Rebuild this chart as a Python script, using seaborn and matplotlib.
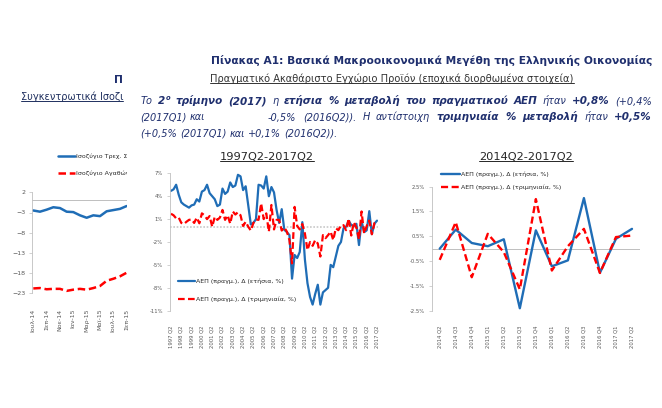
import seaborn as sns
import matplotlib.pyplot as plt
from matplotlib.lines import Line2D
from matplotlib.transforms import Bbox, TransformedBbox

# ============================================ [ data ] ============================================
months = ["Ιουλ-14", "Αυγ-14", "Σεπ-14", "Οκτ-14", "Νοε-14", "Δεκ-14", "Ιαν-15", "Φεβ-15",
          "Μαρ-15", "Απρ-15", "Μαϊ-15", "Ιουν-15", "Ιουλ-15", "Αυγ-15", "Σεπ-15"]
current_account = [-2.5, -2.8, -2.3, -1.7, -1.9, -2.8, -2.9, -3.7, -4.3, -3.7, -3.9, -2.7, -2.4, -2.1, -1.4]
goods_balance = [-21.8, -21.7, -22.0, -21.9, -21.9, -22.4, -22.1, -21.9, -22.1, -21.7, -21.2, -19.9, -19.4, -18.8, -17.9]

quarters = [f"{y} Q{q}" for y in range(1997, 2018) for q in range(1, 5)][1:-2]   # 1997 Q2 .. 2017 Q2
gdp_annual = [4.7, 4.9, 5.5, 4.2, 3.2, 2.9, 2.7, 2.5, 2.8, 2.9, 3.6, 3.3, 4.6, 4.8, 5.5, 4.4,
              4.0, 3.6, 2.7, 2.9, 5.0, 4.3, 4.6, 5.8, 5.2, 5.4, 6.8, 6.6, 4.8, 5.3, 2.8, 0.3,
              0.5, 1.0, 5.5, 5.4, 5.0, 6.6, 4.0, 5.2, 4.5, 2.2, 0.5, 2.3, -0.4, -0.7, -1.1, -6.8,
              -3.7, -4.1, -3.3, 0.6, -4.3, -7.4, -9.2, -10.2, -8.8, -7.6, -10.2, -8.6, -8.3, -8.0,
              -5.0, -5.3, -3.9, -2.5, -2.0, -0.2,
              0.0, 0.77, 0.23, 0.1, 0.38, -2.4, 0.74, -0.71, -0.47, 2.04, -0.97, 0.4, 0.8]
gdp_quarterly = [1.7, 1.5, 1.1, 1.2, 0.5, 0.35, 0.65, 0.9, 0.95, 0.5, 1.2, 0.45, 1.75, 1.5, 1.0, 1.4,
                 0.0, 1.3, 0.9, 1.2, 2.2, 0.9, 1.5, 0.4, 2.0, 1.6, 1.9, 1.5, 0.1, 0.65, 0.0, -0.5,
                 0.5, 0.95, 0.9, 3.05, 1.0, 1.75, -0.65, 2.85, -0.35, 0.9, 0.9, -0.5, -0.1, -0.65, -1.75, -4.8,
                 2.6, 0.1, -0.35, 0.35, -0.9, -3.05, -2.0, -2.5, -1.75, -2.2, -3.9, -1.1, -1.5, -1.1,
                 -0.65, -1.75, -0.2, -0.45, 0.2, 0.2,
                 -0.45, 1.07, -1.15, 0.6, -0.14, -1.64, 2.0, -0.88, 0.1, 0.8, -0.98, 0.47, 0.53]

recent_quarters = quarters[-13:]
recent_annual = gdp_annual[-13:]
recent_quarterly = gdp_quarterly[-13:]

# ============================================ [ style ] ============================================
sns.set_theme(style="white")
plt.rcParams["font.family"] = ["DejaVu Sans"]

BLUE = "#1f6db6"
RED = "#ff0000"
GREY = "#595959"
NAVY = "#1f2f6e"
W, H = 662, 408

fig = plt.figure(figsize=(6.62, 4.08), dpi=100)
fig.patch.set_facecolor("white")


def box(x0, y0, x1, y1):
    return [x0 / W, 1 - y1 / H, (x1 - x0) / W, (y1 - y0) / H]


def style_axes(ax, tick_size, xpad, ypad):
    for s in ["top", "right", "bottom"]:
        ax.spines[s].set_visible(False)
    ax.spines["left"].set_color("#bfbfbf")
    ax.spines["left"].set_linewidth(0.6)
    ax.tick_params(axis="y", left=True, length=2, width=0.5, color="#bfbfbf",
                   labelsize=tick_size, labelcolor=GREY, pad=ypad)
    ax.tick_params(axis="x", bottom=False, labelsize=tick_size, labelcolor=GREY,
                   pad=xpad, labelrotation=90)
    ax.set_xlabel("")
    ax.set_ylabel("")


# ---------------- left chart (balances) ----------------
ax_l = fig.add_axes(box(31.7, 192.3, 127, 293.3))
sns.lineplot(x=range(len(months)), y=current_account, ax=ax_l, color=BLUE, lw=1.8,
             label="Ισοζύγιο Τρεχ. Συναλλαγών")
sns.lineplot(x=range(len(months)), y=goods_balance, ax=ax_l, color=RED, lw=1.8,
             linestyle=(0, (3, 1.5)), label="Ισοζύγιο Αγαθών")
ax_l.axhline(0, color="#bfbfbf", lw=0.7, zorder=0)
ax_l.set_ylim(-23, 2)
ax_l.set_yticks([2, -3, -8, -13, -18, -23])
ax_l.set_xlim(-0.24, 14.05)
ax_l.set_xticks(range(0, len(months), 2))
ax_l.set_xticklabels(months[::2])
style_axes(ax_l, 4.5, 5, 2.5)
leg = ax_l.legend(loc="upper left", bbox_to_anchor=(55 / W, 1 - 150.5 / H),
                  bbox_transform=fig.transFigure, frameon=False, fontsize=4.5,
                  handlelength=2.7, handletextpad=0.2, labelspacing=1.8, borderpad=0)
clip = TransformedBbox(Bbox([[0, 0], [127 / W, 1]]), fig.transFigure)
for t in leg.get_texts():
    t.set_color("#262626")
    t.set_clip_box(clip)
    t.set_clip_on(True)

# ---------------- middle chart (1997Q2-2017Q2) ----------------
ax_m = fig.add_axes(box(169.7, 173.3, 378.3, 310.7))
sns.lineplot(x=range(len(quarters)), y=gdp_annual, ax=ax_m, color=BLUE, lw=1.6,
             label="ΑΕΠ (πραγμ.), Δ (ετήσια, %)")
sns.lineplot(x=range(len(quarters)), y=gdp_quarterly, ax=ax_m, color=RED, lw=1.6,
             linestyle=(0, (3, 1.5)), label="ΑΕΠ (πραγμ.), Δ (τριμηνιαία, %)")
ax_m.axhline(0, color="#c8c8c8", lw=1.2, ls=(0, (1, 1)), zorder=0)
ax_m.set_ylim(-11, 7)
ax_m.set_yticks(range(7, -12, -3))
ax_m.set_yticklabels([f"{v}%" for v in range(7, -12, -3)])
ax_m.set_xlim(-0.5, len(quarters) - 0.5)
ax_m.set_xticks(range(0, len(quarters), 4))
ax_m.set_xticklabels(quarters[::4])
style_axes(ax_m, 3.8, 5, 3)
ax_m.legend(loc="upper left", bbox_to_anchor=(175 / W, 1 - 275.5 / H),
            bbox_transform=fig.transFigure, frameon=False, fontsize=4.5,
            handlelength=2.7, handletextpad=0.2, labelspacing=2.0, borderpad=0)

# ---------------- right chart (2014Q2-2017Q2) ----------------
ax_r = fig.add_axes(box(431.7, 186.7, 640, 310.7))
sns.lineplot(x=range(len(recent_quarters)), y=recent_annual, ax=ax_r, color=BLUE, lw=1.7,
             label="ΑΕΠ (πραγμ.), Δ (ετήσια, %)")
sns.lineplot(x=range(len(recent_quarters)), y=recent_quarterly, ax=ax_r, color=RED, lw=1.7,
             linestyle=(0, (3, 1.5)), label="ΑΕΠ (πραγμ.), Δ (τριμηνιαία, %)")
ax_r.axhline(0, color="#bfbfbf", lw=0.7, zorder=0)
ax_r.set_ylim(-2.5, 2.5)
r_ticks = [2.5, 1.5, 0.5, -0.5, -1.5, -2.5]
ax_r.set_yticks(r_ticks)
ax_r.set_yticklabels([f"{v}%" for v in r_ticks])
ax_r.set_xlim(-0.5, len(recent_quarters) - 0.5)
ax_r.set_xticks(range(len(recent_quarters)))
ax_r.set_xticklabels(recent_quarters)
style_axes(ax_r, 3.8, 5, 3)
ax_r.legend(loc="upper left", bbox_to_anchor=(438 / W, 1 - 168.5 / H),
            bbox_transform=fig.transFigure, frameon=False, fontsize=4.5,
            handlelength=3.0, handletextpad=0.2, labelspacing=1.15, borderpad=0)

for ax in (ax_m, ax_r):
    for t in ax.get_legend().get_texts():
        t.set_color("#262626")

# ============================================ [ texts ] ============================================
renderer = fig.canvas.get_renderer()


def underline(t, color, off=1.5):
    bb = t.get_window_extent(renderer)
    y = (bb.y0 + off) / H
    fig.add_artist(Line2D([bb.x0 / W, bb.x1 / W], [y, y], color=color, lw=0.7))


def text_line(words, x0, y, size, x1=None, space=3.0):
    # words: (text, bold, superscript)
    items = []
    for s, bold, sup in words:
        fs = size * (1.07 if bold else 1) * (0.65 if sup else 1)
        t = fig.text(0, 0, s, fontsize=fs, style="italic",
                     weight="bold" if bold else "normal", color=NAVY, va="baseline")
        items.append((t, sup))
    widths = [t.get_window_extent(renderer).width for t, _ in items]
    n_gaps = sum(1 for _, sup in items[1:] if not sup)
    gap = space if x1 is None else (x1 - x0 - sum(widths)) / n_gaps
    x = x0
    for i, ((t, sup), w) in enumerate(zip(items, widths)):
        if i > 0 and not sup:
            x += gap
        t.set_position((x / W, 1 - (y - (4 if sup else 0)) / H))
        x += w


fig.text(652 / W, 1 - 60 / H, "Πίνακας Α1: Βασικά Μακροοικονομικά Μεγέθη της Ελληνικής Οικονομίας",
         ha="right", va="center", fontsize=7.7, weight="bold", color=NAVY)
fig.text(118.5 / W, 1 - 80 / H, "Π", ha="center", va="center", fontsize=7.7, weight="bold", color=NAVY)
sub = fig.text(392 / W, 1 - 79 / H, "Πραγματικό Ακαθάριστο Εγχώριο Προϊόν (εποχικά διορθωμένα στοιχεία)",
               ha="center", va="center", fontsize=7.1, color="#333333")
underline(sub, "#333333")
side = fig.text(21 / W, 1 - 97 / H, "Συγκεντρωτικά Ισοζι", ha="left", va="center",
                fontsize=7.0, color="#1f2f5e")
underline(side, "#1f2f5e")

text_line([("Το", False, False), ("2", True, False), ("ο", True, True), ("τρίμηνο", True, False),
           ("(2017)", True, False), ("η", False, False), ("ετήσια", True, False), ("%", True, False),
           ("μεταβολή", True, False), ("του", True, False), ("πραγματικού", True, False),
           ("ΑΕΠ", True, False), ("ήταν", False, False), ("+0,8%", True, False), ("(+0,4%", False, False)],
          140.7, 104, 7.0, x1=652)
text_line([("(2017Q1)", False, False), ("και", False, False)], 140.7, 120.5, 7.0)
text_line([("-0,5%", False, False), ("(2016Q2)).", False, False), ("Η", False, False),
           ("αντίστοιχη", False, False), ("τριμηνιαία", True, False), ("%", True, False),
           ("μεταβολή", True, False), ("ήταν", False, False), ("+0,5%", True, False)],
          268, 120.5, 7.0, x1=652)
text_line([("(+0,5%", False, False), ("(2017Q1)", False, False), ("και", False, False),
           ("+0,1%", False, False), ("(2016Q2)).", False, False)], 140.7, 137, 7.0)

t_m = fig.text(267 / W, 1 - 157 / H, "1997Q2-2017Q2", ha="center", va="center", fontsize=8.2, color="#262626")
t_r = fig.text(526 / W, 1 - 157 / H, "2014Q2-2017Q2", ha="center", va="center", fontsize=8.2, color="#262626")
underline(t_m, "#262626", 1.0)
underline(t_r, "#262626", 1.0)

fig.savefig("out.png", dpi=100)
